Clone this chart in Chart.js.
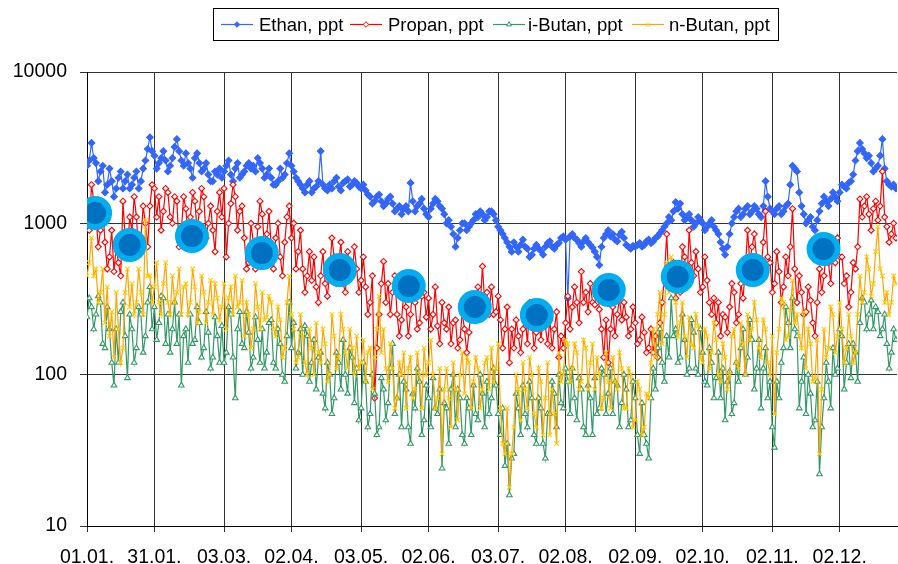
<!DOCTYPE html>
<html>
<head>
<meta charset="utf-8">
<script src="https://cdn.jsdelivr.net/npm/chart.js@4.4.1/dist/chart.umd.min.js"></script>
<style>
  html, body { margin: 0; padding: 0; background: #fff; }
  #wrap { width: 898px; height: 564px; }
</style>
</head>
<body>
<div id="wrap"><canvas id="chart" width="898" height="564"></canvas></div>
<script>
// daily values in ppt, day 0 = 01.01.
const ethan = [
  2400, 2600, 3400, 2700, 2500, 1900, 2200, 2400, 1600, 1800, 2300, 1900, 1500, 1700, 2000, 2200, 1700, 1900, 2100, 1700,
  1800, 2000, 2200, 1700, 1900, 2300, 2600, 3100, 3700, 3000, 2800, 2300, 2500, 2700, 3000, 2600, 2200, 2400, 2700, 3200,
  3600, 3000, 2600, 2400, 2900, 2500, 2300, 2000, 2700, 2900, 2500, 2200, 2300, 2500, 2100, 1900, 1900, 2200, 2100, 2300,
  2000, 2200, 2400, 2600, 2100, 1900, 2300, 2500, 2000, 2100, 2200, 2400, 2500, 2300, 2400, 2200, 2700, 2500, 2300, 2000,
  2100, 2300, 2000, 1800, 1800, 1900, 2300, 2000, 2100, 2500, 2900, 2400, 2200, 2000, 1900, 1800, 1700, 1600, 1800, 1900,
  1600, 1700, 1750, 1900, 3000, 1800, 1700, 1650, 1800, 1700, 1900, 2000, 1750, 1650, 1850, 1900, 1950, 1750, 1800, 1900,
  1850, 1750, 1700, 1800, 1650, 1550, 1500, 1350, 1400, 1500, 1550, 1400, 1300, 1350, 1450, 1500, 1350, 1200, 1250, 1300,
  1150, 1250, 1300, 1200, 1850, 1400, 1200, 1300, 1350, 1450, 1250, 1150, 1100, 1250, 1350, 1450, 1400, 1300, 1250, 1150,
  1000, 1050, 950, 850, 700, 800, 900, 1000, 1000, 900, 950, 1000, 1050, 1150, 1100, 1200, 1150, 1050, 1100, 1200,
  1200, 1150, 1050, 950, 900, 850, 800, 750, 700, 650, 750, 700, 650, 720, 780, 700, 680, 600, 620, 680,
  720, 680, 660, 620, 700, 740, 760, 700, 680, 720, 740, 800, 820, 780, 320, 820, 850, 800, 780, 740,
  700, 760, 800, 750, 720, 690, 650, 600, 530, 700, 800, 850, 900, 820, 850, 780, 760, 840, 880, 800,
  720, 700, 680, 710, 700, 720, 740, 700, 720, 760, 780, 740, 760, 800, 820, 860, 900, 950, 1000, 1100,
  1050, 1200, 1380, 1250, 1350, 1150, 1050, 1100, 1150, 1050, 950, 1000, 1100, 1050, 1000, 900, 950, 1000, 1050, 950,
  900, 850, 750, 680, 620, 700, 850, 1000, 1100, 1200, 1250, 1100, 1150, 1250, 1300, 1150, 1200, 1300, 1250, 1150,
  1100, 1300, 1900, 1500, 1250, 1200, 1150, 1250, 1300, 1150, 1200, 1300, 1350, 1800, 2400, 2300, 2200, 1600, 1300, 1150,
  1000, 1050, 1100, 950, 900, 1050, 1200, 1350, 1500, 1400, 1300, 1450, 1600, 1500, 1400, 1600, 1800, 1750, 1700, 1850,
  1900, 2100, 2600, 3000, 3400, 3100, 2900, 2700, 2800, 2500, 2200, 2300, 2400, 2800, 3600, 2300, 1900, 1800, 1750, 1800,
  1700
];
const propan = [
  1250, 900, 1800, 1400, 1100, 700, 900, 1300, 750, 500, 600, 900, 480, 700, 550, 450, 1400, 800, 650, 1100,
  900, 1500, 1100, 650, 800, 1300, 1000, 700, 1300, 1800, 1700, 1100, 1500, 900, 1200, 1700, 1600, 1100, 1000, 1500,
  1400, 700, 900, 1500, 1250, 800, 1100, 1600, 1400, 900, 1200, 1700, 1500, 800, 1000, 1300, 900, 650, 1200, 1600,
  1100, 1700, 600, 1000, 1350, 1800, 1500, 900, 1200, 1300, 800, 500, 550, 1000, 750, 500, 950, 1400, 1150, 700,
  850, 1200, 700, 500, 800, 1000, 600, 450, 750, 1100, 1300, 800, 1000, 500, 650, 900, 500, 350, 450, 650,
  420, 600, 380, 300, 450, 650, 400, 330, 470, 800, 600, 400, 550, 750, 400, 350, 650, 500, 450, 700,
  500, 350, 420, 600, 380, 250, 300, 450, 70, 150, 250, 400, 560, 300, 400, 250, 350, 450, 250, 180,
  230, 350, 280, 180, 250, 400, 300, 200, 220, 330, 350, 240, 320, 200, 250, 380, 210, 160, 300, 220,
  200, 280, 160, 220, 230, 150, 170, 260, 200, 140, 190, 280, 320, 230, 380, 280, 520, 300, 350, 250,
  380, 250, 260, 330, 230, 150, 200, 280, 120, 200, 150, 230, 180, 140, 200, 250, 160, 300, 220, 150,
  190, 260, 170, 230, 210, 160, 230, 150, 200, 260, 130, 180, 150, 220, 330, 200, 280, 380, 300, 220,
  480, 300, 350, 260, 400, 300, 290, 400, 270, 200, 130, 230, 120, 200, 280, 180, 250, 320, 230, 300,
  240, 180, 200, 280, 220, 160, 170, 240, 190, 140, 150, 200, 140, 180, 130, 220, 300, 450, 850, 400,
  380, 550, 320, 450, 350, 700, 600, 400, 900, 550, 450, 650, 500, 350, 380, 600, 420, 300, 250, 320,
  220, 300, 180, 250, 240, 190, 280, 400, 350, 220, 250, 400, 320, 500, 900, 550, 700, 850, 600, 450,
  500, 750, 1200, 600, 550, 350, 400, 650, 480, 300, 380, 600, 450, 700, 1250, 500, 300, 450, 350, 250,
  260, 380, 310, 220, 180, 300, 500, 350, 450, 650, 550, 400, 700, 550, 800, 600, 600, 400, 450, 280,
  350, 550, 500, 700, 1450, 1100, 1300, 1500, 1150, 900, 1250, 1400, 1050, 1300, 2200, 1100, 950, 750, 850, 1000,
  800
];
const iButan = [
  240, 320, 280, 200, 250, 330, 300, 160, 150, 280, 200, 120, 85, 200, 120, 260, 300, 180, 95, 250,
  200, 120, 150, 280, 250, 140, 180, 300, 380, 200, 280, 170, 220, 330, 320, 160, 250, 140, 200, 300,
  160, 250, 85, 180, 200, 120, 250, 160, 170, 280, 220, 130, 150, 260, 190, 110, 130, 240, 180, 120,
  210, 120, 140, 280, 250, 130, 70, 200, 260, 160, 150, 260, 190, 110, 130, 240, 170, 120, 200, 110,
  140, 220, 230, 120, 110, 200, 160, 100, 90, 180, 300, 150, 220, 110, 140, 200, 100, 210, 180, 90,
  120, 170, 80, 130, 140, 75, 60, 120, 100, 55, 70, 140, 120, 80, 170, 100, 75, 150, 130, 65,
  110, 50, 60, 120, 90, 45, 55, 100, 75, 40, 45, 95, 80, 50, 65, 110, 160, 55, 70, 100,
  45, 90, 80, 45, 35, 75, 60, 110, 90, 40, 50, 85, 70, 45, 95, 60, 55, 80, 24, 65,
  60, 35, 80, 100, 45, 80, 70, 40, 35, 70, 60, 40, 85, 55, 50, 100, 75, 45, 90, 55,
  70, 110, 85, 55, 40, 60, 25, 35, 16, 28, 30, 75, 60, 40, 85, 55, 45, 90, 70, 40,
  35, 70, 60, 35, 28, 55, 55, 90, 75, 45, 100, 65, 60, 110, 90, 55, 110, 70, 50, 95,
  80, 45, 40, 85, 70, 40, 95, 55, 60, 110, 100, 55, 75, 110, 55, 90, 85, 45, 65, 100,
  80, 45, 50, 90, 70, 40, 30, 65, 40, 35, 28, 70, 110, 80, 150, 200, 120, 90, 180, 130,
  320, 180, 200, 120, 130, 250, 170, 100, 110, 230, 190, 110, 100, 200, 140, 90, 85, 150, 120, 70,
  95, 140, 70, 110, 50, 90, 105, 55, 65, 120, 90, 150, 200, 100, 130, 230, 170, 80, 110, 170,
  60, 110, 150, 70, 90, 45, 33, 90, 70, 120, 150, 280, 220, 150, 320, 200, 180, 60, 90, 130,
  55, 100, 75, 45, 50, 90, 22, 45, 70, 120, 90, 60, 150, 100, 110, 200, 180, 80, 120, 160,
  95, 160, 140, 90, 220, 320, 300, 200, 250, 310, 200, 280, 260, 180, 200, 250, 160, 110, 140, 200,
  170
];
const nButan = [
  450, 550, 800, 450, 500, 300, 350, 500, 220, 380, 180, 260, 130, 350, 200, 120, 150, 350, 500, 280,
  400, 250, 300, 500, 350, 250, 1050, 450, 450, 300, 380, 550, 300, 250, 400, 550, 300, 250, 450, 300,
  350, 500, 250, 380, 400, 250, 300, 500, 380, 220, 260, 450, 350, 220, 300, 420, 250, 400, 320, 230,
  280, 400, 200, 320, 380, 250, 450, 280, 300, 420, 180, 300, 250, 150, 200, 400, 280, 200, 350, 230,
  240, 330, 300, 200, 180, 280, 230, 130, 150, 300, 450, 250, 200, 120, 130, 250, 180, 120, 100, 200,
  150, 100, 220, 140, 120, 200, 160, 90, 100, 250, 180, 110, 130, 250, 200, 140, 110, 200, 150, 100,
  180, 110, 120, 170, 90, 140, 150, 80, 130, 200, 330, 140, 200, 110, 90, 160, 110, 60, 70, 120,
  100, 140, 60, 110, 130, 70, 80, 140, 100, 60, 150, 100, 120, 170, 100, 60, 70, 110, 30, 80,
  110, 70, 45, 120, 80, 50, 100, 140, 75, 130, 120, 60, 90, 130, 110, 60, 80, 120, 130, 80,
  150, 90, 110, 160, 60, 35, 30, 60, 18, 30, 45, 100, 80, 50, 120, 80, 60, 130, 100, 55,
  45, 110, 90, 40, 70, 120, 40, 80, 55, 35, 140, 90, 100, 170, 160, 90, 110, 160, 140, 80,
  90, 170, 150, 80, 120, 160, 80, 130, 100, 60, 70, 140, 90, 60, 130, 90, 80, 140, 110, 60,
  60, 110, 100, 45, 50, 90, 80, 40, 45, 75, 70, 120, 200, 130, 250, 350, 160, 250, 550, 350,
  600, 400, 300, 180, 220, 300, 180, 130, 240, 160, 150, 250, 210, 130, 120, 200, 180, 110, 140, 220,
  170, 100, 90, 160, 130, 80, 100, 180, 200, 120, 110, 220, 160, 100, 250, 170, 200, 300, 230, 150,
  130, 230, 200, 120, 100, 180, 55, 140, 200, 320, 300, 170, 180, 270, 420, 220, 250, 180, 150, 260,
  110, 200, 160, 90, 95, 170, 30, 80, 200, 130, 150, 280, 250, 140, 180, 300, 200, 120, 150, 250,
  180, 120, 140, 250, 450, 300, 350, 600, 500, 330, 400, 650, 950, 500, 450, 300, 350, 250, 300, 450,
  400
];
// monthly means (day of year, ppt)
const meanDays = [3.6, 19, 46.7, 77.8, 112.5, 143.2, 172.6, 200.2, 232.2, 262.9, 296.3, 327.8];
const meanVals = [1170, 720, 825, 637, 492, 385, 280, 248, 363, 443, 492, 677];

const tickDays = [0, 30, 61, 91, 122, 152, 183, 213, 244, 274, 305, 335];
const tickLabels = ['01.01.', '31.01.', '03.03.', '02.04.', '03.05.', '02.06.', '03.07.', '02.08.', '02.09.', '02.10.', '02.11.', '02.12.'];
const yTicks = [10, 100, 1000, 10000];

const FONT = "'Liberation Sans', Arial, sans-serif";
const toPts = arr => arr.map((v, i) => ({ x: i, y: v }));

const series = [
  { label: 'Ethan, ppt', data: ethan, color: '#3366FF', mark: '#3366FF', fill: '#3366FF', style: 'rectRot', r: 3.3 },
  { label: 'Propan, ppt', data: propan, color: '#FF0000', mark: '#FF0000', fill: '#FFFFFF', style: 'rectRot', r: 3 },
  { label: 'i-Butan, ppt', data: iButan, color: '#339966', mark: '#339966', fill: '#FFFFFF', style: 'triangle', r: 3.2 },
  { label: 'n-Butan, ppt', data: nButan, color: '#FFA500', mark: '#FFCC00', fill: '#FFCC00', style: 'crossRot', r: 3.2 }
];

// legend box drawn on the canvas (line with a marker, like the original)
const legendBox = {
  id: 'legendBox',
  afterDraw(chart) {
    const ctx = chart.ctx;
    ctx.save();
    ctx.strokeStyle = '#000';
    ctx.lineWidth = 1;
    ctx.strokeRect(213.5, 8.5, 565, 32);
    const lineX = [221, 350, 493, 632];
    const textX = [259, 388, 528, 669];
    ctx.font = '18.5px ' + FONT;
    ctx.textBaseline = 'middle';
    series.forEach((s, i) => {
      const y = 24.5;
      ctx.strokeStyle = s.color;
      ctx.lineWidth = 1.2;
      ctx.beginPath();
      ctx.moveTo(lineX[i], y);
      ctx.lineTo(lineX[i] + 32, y);
      ctx.stroke();
      ctx.strokeStyle = s.mark;
      ctx.fillStyle = s.fill;
      ctx.lineWidth = 1;
      Chart.helpers.drawPoint(ctx, { pointStyle: s.style, radius: 2.8, borderWidth: 1, rotation: 0 }, lineX[i] + 16, y);
      ctx.fillStyle = '#000';
      ctx.fillText(s.label, textX[i], y + 1);
    });
    ctx.restore();
  }
};

const datasets = [
  {
    label: 'Mittel',
    data: meanDays.map((d, i) => ({ x: d, y: meanVals[i] })),
    showLine: false,
    pointRadius: 14,
    pointBorderWidth: 6,
    pointBackgroundColor: '#0070C0',
    pointBorderColor: '#00AEEF',
    order: 0
  }
].concat(series.map((s, i) => ({
  label: s.label,
  data: toPts(s.data),
  borderColor: s.color,
  borderWidth: 1.2,
  pointStyle: s.style,
  pointRadius: s.r,
  pointBorderWidth: 1.1,
  pointBorderColor: s.mark,
  pointBackgroundColor: s.fill,
  tension: 0,
  order: 4 - i
})));

new Chart(document.getElementById('chart'), {
  type: 'line',
  data: { datasets },
  options: {
    responsive: false,
    animation: false,
    layout: { autoPadding: false, padding: { left: 0, right: 1, top: 72, bottom: 0 } },
    plugins: { legend: { display: false }, tooltip: { enabled: false } },
    scales: {
      x: {
        type: 'linear',
        min: 0,
        max: 360.5,
        afterBuildTicks: axis => { axis.ticks = tickDays.map(v => ({ value: v })); },
        afterFit: axis => { axis.height = 38; axis.paddingRight = 0; axis.paddingLeft = 0; },
        ticks: {
          autoSkip: false,
          maxRotation: 0,
          padding: 14,
          color: '#000',
          font: { family: FONT, size: 19.5 },
          callback: v => tickLabels[tickDays.indexOf(v)]
        },
        grid: { color: '#333', lineWidth: 1, tickLength: 6, tickColor: '#333' },
        border: { color: '#000', width: 1 }
      },
      y: {
        type: 'logarithmic',
        min: 10,
        max: 10000,
        afterBuildTicks: axis => { axis.ticks = yTicks.map(v => ({ value: v })); },
        afterFit: axis => { axis.width = 87; },
        ticks: {
          padding: 13,
          color: '#000',
          font: { family: FONT, size: 19.5 },
          callback: v => String(v)
        },
        grid: { color: '#333', lineWidth: 1, tickLength: 7, tickColor: '#333' },
        border: { color: '#000', width: 1 }
      }
    }
  },
  plugins: [legendBox]
});
</script>
</body>
</html>
